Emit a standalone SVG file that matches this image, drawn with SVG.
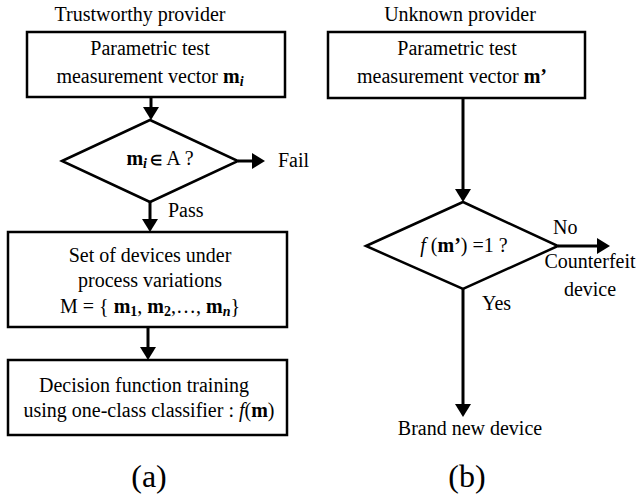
<svg xmlns="http://www.w3.org/2000/svg" width="636" height="498" viewBox="0 0 636 498">
  <style>
    text { font-family: "Liberation Serif", "Times New Roman", serif; font-size: 20px; fill: #000; }
    .c { text-anchor: middle; }
    .b { font-weight: bold; }
    .i { font-style: italic; }
    .sub { font-size: 14px; }
    .cap { font-size: 32px; }
    .box { fill: #fff; stroke: #000; stroke-width: 2.5; }
    .link { stroke: #000; stroke-width: 3; fill: none; }
  </style>
  <defs>
    <marker id="arrow" viewBox="0 0 13 16" refX="0" refY="8" markerWidth="13" markerHeight="16" markerUnits="userSpaceOnUse" orient="auto">
      <path d="M0,0 L13,8 L0,16 Z" fill="#000"/>
    </marker>
  </defs>

  <rect width="636" height="498" fill="#fff"/>

  <!-- column headings -->
  <text class="c" x="140" y="21">Trustworthy provider</text>
  <text class="c" x="460" y="21">Unknown provider</text>

  <!-- connectors -->
  <g id="connectors">
    <line class="link" x1="151" y1="97" x2="151" y2="107" marker-end="url(#arrow)"/>
    <line class="link" x1="238" y1="161" x2="252" y2="161" marker-end="url(#arrow)"/>
    <line class="link" x1="150" y1="202" x2="150" y2="219" marker-end="url(#arrow)"/>
    <line class="link" x1="148" y1="327" x2="148" y2="347" marker-end="url(#arrow)"/>
    <line class="link" x1="463" y1="98" x2="463" y2="189" marker-end="url(#arrow)"/>
    <line class="link" x1="558" y1="246" x2="597" y2="246" marker-end="url(#arrow)"/>
    <line class="link" x1="463" y1="289" x2="463" y2="404" marker-end="url(#arrow)"/>
    <text x="278" y="167">Fail</text>
    <text x="168" y="217">Pass</text>
    <text x="553" y="234">No</text>
    <text x="482" y="310">Yes</text>
  </g>

  <!-- (a) trustworthy provider flow -->
  <g id="measure-a">
    <rect class="box" x="27" y="32" width="258" height="65"/>
    <text class="c" x="150" y="55">Parametric test</text>
    <text class="c" x="150" y="83">measurement vector <tspan class="b">m</tspan><tspan class="b i sub" dy="3">i</tspan></text>
  </g>

  <g id="check-a">
    <polygon class="box" points="62,161 150,120 238,161 150,202"/>
    <text class="c" x="160" y="165"><tspan class="b">m</tspan><tspan class="b i sub" dy="3">i</tspan><tspan class="b sub" dy="-3"> ∈</tspan><tspan> A ?</tspan></text>
  </g>

  <g id="devices">
    <rect class="box" x="8" y="232" width="279" height="95"/>
    <text class="c" x="150" y="262">Set of devices under</text>
    <text class="c" x="150" y="287">process variations</text>
    <text class="c" x="150" y="313">M = { <tspan class="b">m</tspan><tspan class="b sub" dy="3">1</tspan><tspan dy="-3">, </tspan><tspan class="b">m</tspan><tspan class="b sub" dy="3">2</tspan><tspan dy="-3">,…, </tspan><tspan class="b">m</tspan><tspan class="b i sub" dy="3">n</tspan><tspan dy="-3">}</tspan></text>
  </g>

  <g id="training">
    <rect class="box" x="8" y="360" width="279" height="75"/>
    <text class="c" x="144" y="392">Decision function training</text>
    <text class="c" x="149" y="417">using one-class classifier : <tspan class="i">f</tspan>(<tspan class="b">m</tspan>)</text>
  </g>

  <text class="c cap" x="149" y="487">(a)</text>

  <!-- (b) unknown provider flow -->
  <g id="measure-b">
    <rect class="box" x="328" y="32" width="257" height="66"/>
    <text class="c" x="457" y="55">Parametric test</text>
    <text class="c" x="452" y="83">measurement vector <tspan class="b">m’</tspan></text>
  </g>

  <g id="check-b">
    <polygon class="box" points="366,246 463,202 558,246 463,289"/>
    <text class="c" x="464" y="252"><tspan class="i">f</tspan> (<tspan class="b">m’</tspan>) =1 ?</text>
  </g>

  <g id="counterfeit">
    <text class="c" x="590" y="268">Counterfeit</text>
    <text class="c" x="590" y="296">device</text>
  </g>

  <g id="brand-new">
    <text class="c" x="470" y="435">Brand new device</text>
  </g>

  <text class="c cap" x="467" y="487">(b)</text>
</svg>
